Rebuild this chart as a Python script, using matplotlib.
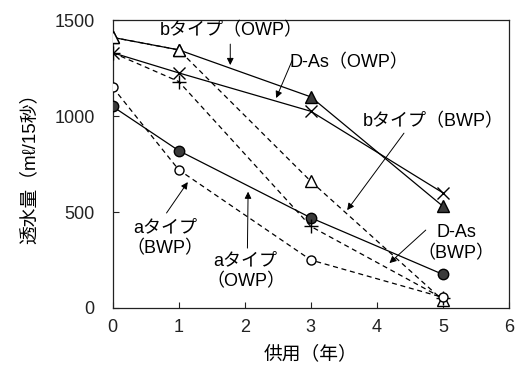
import numpy as np
import matplotlib
matplotlib.use('Agg')
import matplotlib.pyplot as plt

plt.rcParams['font.family'] = ['Liberation Sans', 'Noto Sans CJK JP', 'DejaVu Sans']

# years of service
years = [0, 1, 3, 5]

# permeability (ml / 15 s)
b_owp = [1410, 1345, 1100, 530]
b_bwp = [1410, 1345, 660, 40]
das_owp = [1330, 1225, 1025, 600]
das_bwp = [1330, 1180, 425, 50]
a_owp = [1050, 820, 470, 175]
a_bwp = [1150, 720, 250, 55]

L, R = '\uff08', '\uff09'   # full-width parentheses

dash = (0, (4, 3))
fill = '#3a3a3a'

fig = plt.figure(figsize=(5.16, 3.70), dpi=100)
ax = fig.add_axes([0.2184, 0.1676, 0.768, 0.778])

# solid = OWP, dashed = BWP
ax.plot(years, b_owp, '-', color='k', lw=0.9, marker='^', ms=8, mfc=fill, mec='k', zorder=3)
ax.plot(years, das_owp, '-', color='k', lw=0.9, marker='x', ms=9, mew=1.0, mec='k', zorder=3)
ax.plot(years, a_owp, '-', color='k', lw=0.9, marker='o', ms=7.5, mfc=fill, mec='k', zorder=3)
ax.plot(years, b_bwp, ls=dash, color='k', lw=0.9, marker='^', ms=8, mfc='white', mec='k', zorder=4)
ax.plot(years, das_bwp, ls=dash, color='k', lw=0.9, marker='+', ms=10, mew=1.0, mec='k', zorder=4)
ax.plot(years, a_bwp, ls=dash, color='k', lw=0.9, marker='o', ms=6.5, mfc='white', mec='k', zorder=4)

ax.set_xlim(0, 6)
ax.set_ylim(0, 1500)
ax.set_xticks(range(0, 7))
ax.set_yticks([0, 500, 1000, 1500])
ax.tick_params(direction='in', length=4, width=0.8, labelsize=13, colors='#222222')
ax.tick_params(axis='y', pad=13)
ax.tick_params(axis='x', pad=8)
for s in ax.spines.values():
    s.set_linewidth(0.9)
    s.set_color('#222222')

ax.set_xlabel('供用' + L + '年' + R, fontsize=13.5, labelpad=7)
ax.set_ylabel('透水量' + L + 'mℓ/15秒' + R, fontsize=13.5, labelpad=11)

ap = dict(arrowstyle='-|>', color='k', lw=0.7, mutation_scale=10, shrinkA=0, shrinkB=0)
fs = 13

ax.text(1.80, 1443, 'bタイプ' + L + 'OWP' + R, fontsize=fs, ha='center', va='center')
ax.annotate('', xy=(1.78, 1266), xytext=(1.78, 1375), arrowprops=ap)

ax.text(2.68, 1276, 'D-As' + L + 'OWP' + R, fontsize=fs, ha='left', va='center')
ax.annotate('', xy=(2.475, 1094), xytext=(2.72, 1292), arrowprops=ap)

ax.text(4.85, 969, 'bタイプ' + L + 'BWP' + R, fontsize=fs, ha='center', va='center')
ax.annotate('', xy=(3.55, 510), xytext=(4.41, 911), arrowprops=ap)

ax.text(5.2, 339, 'D-As\n' + L + 'BWP' + R, fontsize=fs, ha='center', va='center', linespacing=1.3)
ax.annotate('', xy=(4.19, 234), xytext=(4.74, 406), arrowprops=ap)

ax.text(0.79, 364, 'aタイプ\n' + L + 'BWP' + R, fontsize=fs, ha='center', va='center', linespacing=1.3)
ax.annotate('', xy=(1.137, 656), xytext=(0.815, 495), arrowprops=ap)

ax.text(2.01, 190, 'aタイプ\n' + L + 'OWP' + R, fontsize=fs, ha='center', va='center', linespacing=1.3)
ax.annotate('', xy=(2.05, 606), xytext=(2.04, 312), arrowprops=ap)

fig.savefig('out.png', dpi=100)
